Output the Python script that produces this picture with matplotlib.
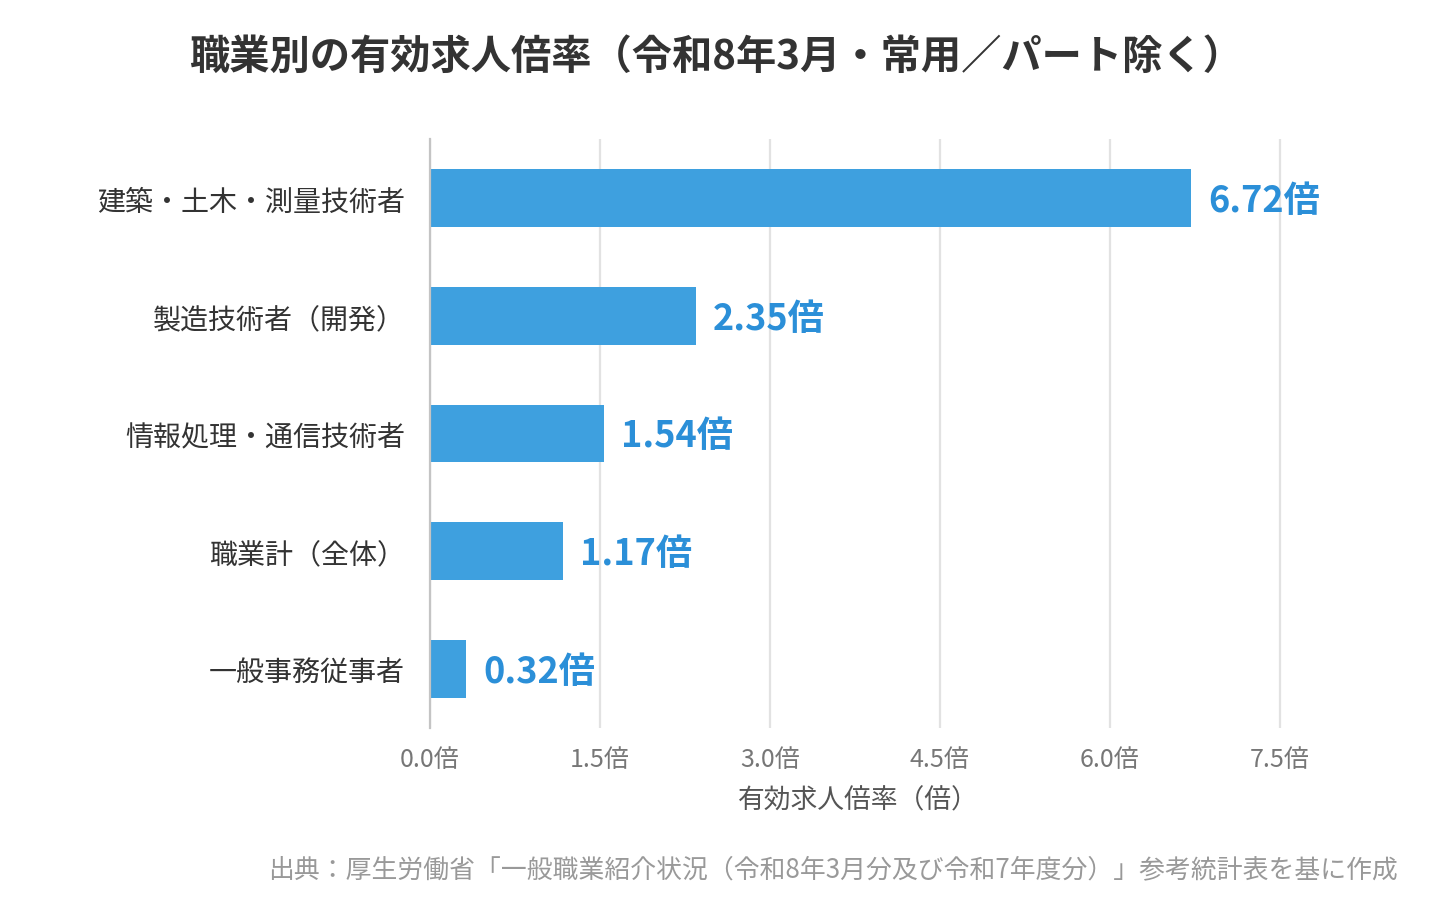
import matplotlib
matplotlib.use("Agg")
import matplotlib.pyplot as plt

plt.rcParams['font.family'] = ['Noto Sans CJK JP', 'DejaVu Sans']

# --- データ ---
categories = ["建築・土木・測量技術者", "製造技術者（開発）", "情報処理・通信技術者", "職業計（全体）", "一般事務従事者"]
ratios = [6.72, 2.35, 1.54, 1.17, 0.32]
xticks = [0.0, 1.5, 3.0, 4.5, 6.0, 7.5]

bar_color = "#3EA0DF"
label_color = "#2B8FD8"

fig = plt.figure(figsize=(14.4, 9.2), dpi=100)
ax = fig.add_axes([430 / 1440, 1 - 729 / 920, (1325 - 430) / 1440, (729 - 140) / 920])

ypos = list(range(len(categories)))
ax.barh(ypos, ratios, height=0.49, color=bar_color, zorder=3)

for y, v in zip(ypos, ratios):
    ax.text(v + 0.15, y + 0.02, f"{v:.2f}倍", va="center", ha="left",
            fontsize=26, fontweight="bold", color=label_color, zorder=4)

ax.set_ylim(len(categories) - 0.5, -0.5)
ax.set_xlim(0, 7.9)
ax.set_yticks(ypos)
ax.set_yticklabels(categories, fontsize=20.2, color="#333333")
ax.set_xticks(xticks)
ax.set_xticklabels([f"{t:.1f}倍" for t in xticks], fontsize=18, color="#777777")
ax.tick_params(axis="both", length=0)
ax.tick_params(axis="y", pad=18)
ax.tick_params(axis="x", pad=13)

ax.grid(axis="x", color="#e2e2e2", linewidth=1.6, zorder=0)
for s in ["top", "right", "bottom"]:
    ax.spines[s].set_visible(False)
ax.spines["left"].set_color("#c4c4c4")
ax.spines["left"].set_linewidth(1.6)
ax.spines["left"].set_zorder(5)

ax.set_xlabel("有効求人倍率（倍）", fontsize=19.3, color="#555555")
ax.xaxis.set_label_coords((858 - 430) / 895, -(801 - 729) / 589)
ax.xaxis.label.set_va("center")

fig.text(716 / 1440, 1 - 57 / 920, "職業別の有効求人倍率（令和8年3月・常用／パート除く）",
         ha="center", va="center", fontsize=29, fontweight="bold", color="#333333")
fig.text(1398 / 1440, 1 - 870 / 920,
         "出典：厚生労働省「一般職業紹介状況（令和8年3月分及び令和7年度分）」参考統計表を基に作成",
         ha="right", va="center", fontsize=18.6, color="#999999")

fig.savefig("out.png", dpi=100)
